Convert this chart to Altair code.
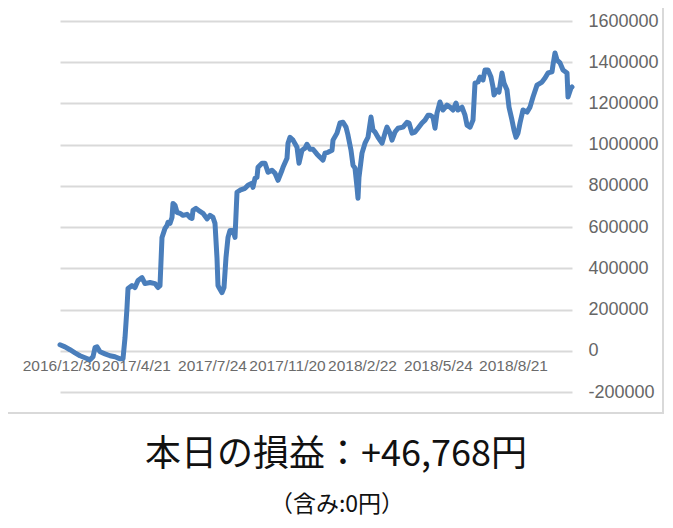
import altair as alt
import pandas as pd

# trading-day index and cumulative profit (yen)
day = [-1, 4, 9, 14, 19, 24, 29, 32, 34, 36, 39, 44, 49, 54, 59, 62, 64, 66, 67, 71,
       74, 77, 81, 84, 89, 94, 97, 99, 101, 104, 106, 107, 109, 111, 112, 114, 116, 119, 122, 126,
       129, 131, 132, 135, 139, 142, 146, 149, 152, 154, 156, 157, 158, 161, 163, 165, 167, 169, 172, 174,
       176, 179, 184, 187, 191, 192, 194, 196, 197, 201, 204, 207, 211, 214, 217, 221, 222, 226, 227, 229,
       232, 236, 238, 241, 244, 246, 249, 252, 256, 259, 262, 264, 267, 271, 272, 276, 279, 282, 285, 287,
       290, 292, 294, 296, 297, 298, 301, 304, 307, 310, 312, 314, 317, 321, 324, 326, 329, 331, 334, 337,
       342, 346, 348, 351, 354, 357, 361, 364, 367, 369, 372, 374, 376, 379, 382, 386, 389, 392, 395, 397,
       401, 404, 406, 409, 412, 414, 417, 419, 422, 424, 427, 430, 432, 433, 436, 438, 441, 443, 446, 448,
       451, 453, 455, 457, 459, 462, 466, 469, 472, 476, 481, 484, 487, 491, 492, 494, 496, 499, 502, 506,
       507, 510, 511]
pnl = [29000, 19000, 5000, -10000, -24000, -34000, -44000, -29000, 15000, 19000, -5000, -15000, -24000, -29000, -39000, -39000, 63000, 209000, 302000, 316000,
       307000, 341000, 355000, 326000, 331000, 326000, 307000, 316000, 550000, 594000, 608000, 623000, 618000, 647000, 715000, 706000, 672000, 667000, 657000, 662000,
       647000, 642000, 681000, 691000, 676000, 667000, 640000, 657000, 647000, 618000, 450000, 316000, 307000, 282000, 307000, 453000, 550000, 584000, 584000, 550000,
       769000, 779000, 788000, 803000, 813000, 793000, 837000, 842000, 890000, 910000, 910000, 866000, 876000, 861000, 827000, 876000, 890000, 934000, 1007000, 1036000,
       1022000, 988000, 910000, 973000, 983000, 1002000, 978000, 978000, 954000, 939000, 925000, 959000, 963000, 973000, 1022000, 1056000, 1105000, 1109000, 1085000, 1046000,
       973000, 900000, 886000, 793000, 740000, 842000, 959000, 1007000, 1036000, 1134000, 1071000, 1061000, 1036000, 1007000, 1056000, 1085000, 1056000, 1022000, 1061000, 1080000,
       1085000, 1109000, 1105000, 1056000, 1061000, 1080000, 1105000, 1119000, 1143000, 1143000, 1134000, 1080000, 1153000, 1207000, 1168000, 1192000, 1182000, 1168000, 1202000, 1168000,
       1182000, 1143000, 1095000, 1085000, 1119000, 1299000, 1304000, 1328000, 1314000, 1362000, 1362000, 1328000, 1280000, 1241000, 1265000, 1255000, 1348000, 1299000, 1265000, 1182000,
       1119000, 1071000, 1036000, 1056000, 1105000, 1168000, 1158000, 1182000, 1231000, 1289000, 1304000, 1323000, 1348000, 1353000, 1387000, 1445000, 1411000, 1397000, 1362000, 1348000,
       1231000, 1275000, 1280000]

# category labels shown on the x axis and where they sit
x_label_pos = [0, 75, 151, 226, 301, 377, 452]
x_labels = ["2016/12/30", "2017/4/21", "2017/7/24", "2017/11/20", "2018/2/22", "2018/5/24", "2018/8/21"]
y_ticks = [-200000, 0, 200000, 400000, 600000, 800000, 1000000, 1200000, 1400000, 1600000]

title_main = "本日の損益：+46,768円"
title_sub = "（含み:0円）"

FONT = "Noto Sans CJK JP"
AXIS_FONT = "Liberation Sans"

df = pd.DataFrame({"day": day, "pnl": pnl})

expr = "''"
for p, l in reversed(list(zip(x_label_pos, x_labels))):
    expr = f"datum.value == {p} ? '{l}' : ({expr})"

line = alt.Chart(df).mark_line(
    color="#4a7ebb", strokeWidth=5, strokeJoin="round", strokeCap="round"
).encode(
    x=alt.X("day:Q", scale=alt.Scale(domain=[-1, 511], nice=False, zero=False),
            axis=alt.Axis(values=x_label_pos, labelExpr=expr, title=None, grid=False,
                          domain=False, ticks=False, labelOverlap=False, labelBound=False,
                          labelFlush=False, offset=-42, labelPadding=8, labelFontSize=15.5,
                          labelColor="#6b6b6b", labelFont=AXIS_FONT)),
    y=alt.Y("pnl:Q", scale=alt.Scale(domain=[-200000, 1600000], nice=False),
            axis=alt.Axis(orient="right", values=y_ticks, title=None, domain=False, ticks=False,
                          grid=True, gridColor="#d9d9d9", gridWidth=2,
                          labelExpr="datum.value < 0 ? '-' + abs(datum.value) : '' + datum.value",
                          labelPadding=16, labelFontSize=18, labelColor="#666666",
                          labelFont=AXIS_FONT)),
)

t1 = alt.Chart(pd.DataFrame({"t": [title_main]})).mark_text(
    font=FONT, fontSize=36, color="#111111", align="center", baseline="middle"
).encode(text="t:N", x=alt.value(276), y=alt.value(434))

t2 = alt.Chart(pd.DataFrame({"t": [title_sub]})).mark_text(
    font=FONT, fontSize=23, color="#111111", align="center", baseline="middle"
).encode(text="t:N", x=alt.value(277), y=alt.value(484))

border_b = alt.Chart(pd.DataFrame({"a": [0]})).mark_rule(color="#d9d9d9", strokeWidth=2).encode(
    x=alt.value(-59), x2=alt.value(604), y=alt.value(392))
border_r = alt.Chart(pd.DataFrame({"a": [0]})).mark_rule(color="#d9d9d9", strokeWidth=2).encode(
    x=alt.value(603), y=alt.value(-21), y2=alt.value(392))

chart = alt.layer(line, t1, t2, border_b, border_r).properties(
    width=512, height=371,
    autosize=alt.AutoSizeParams(type="none"),
    padding={"left": 52, "top": 13, "right": 93, "bottom": 128},
).configure(background="white").configure_view(stroke=None)

chart.save("out.html", embed_options={"renderer": "svg", "actions": False})
